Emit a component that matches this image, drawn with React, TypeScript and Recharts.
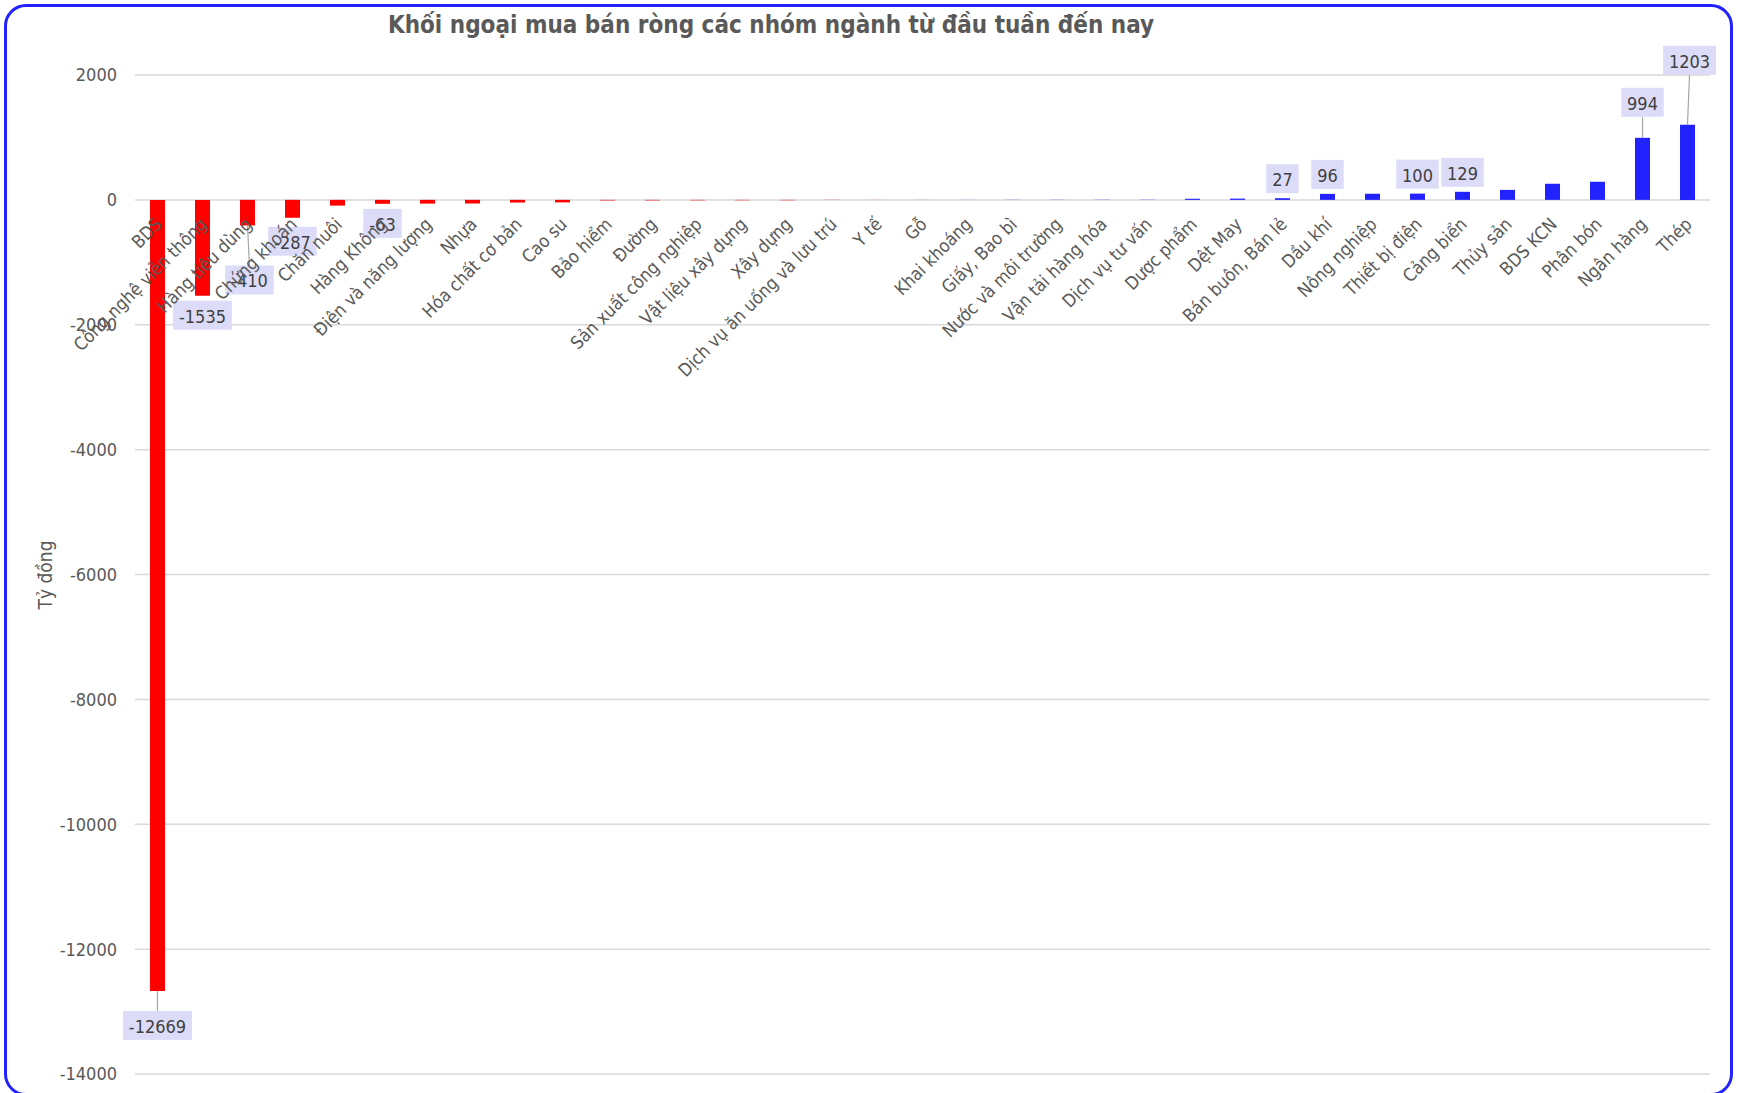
import React from "react";
import { BarChart, Bar, XAxis, YAxis, CartesianGrid, Cell, LabelList } from "recharts";

const FONT = "'DejaVu Sans Condensed', 'DejaVu Sans', sans-serif";

const categories = [
  "BDS",
  "Công nghệ viễn thông",
  "Hàng tiêu dùng",
  "Chứng khoán",
  "Chăn nuôi",
  "Hàng Không",
  "Điện và năng lượng",
  "Nhựa",
  "Hóa chất cơ bản",
  "Cao su",
  "Bảo hiểm",
  "Đường",
  "Sản xuất công nghiệp",
  "Vật liệu xây dựng",
  "Xây dựng",
  "Dịch vụ ăn uống và lưu trú",
  "Y tế",
  "Gỗ",
  "Khai khoáng",
  "Giấy, Bao bì",
  "Nước và môi trường",
  "Vận tải hàng hóa",
  "Dịch vụ tư vấn",
  "Dược phẩm",
  "Dệt May",
  "Bán buôn, Bán lẻ",
  "Dầu khí",
  "Nông nghiệp",
  "Thiết bị điện",
  "Cảng biển",
  "Thủy sản",
  "BDS KCN",
  "Phân bón",
  "Ngân hàng",
  "Thép",
];

// tỷ đồng
const values = [
  -12669, -1535, -410, -287, -92, -63, -60, -58, -43, -40,
  -9, -8, -7, -6, -6, -2, -1, 1, 1, 2,
  2, 3, 3, 18, 20, 27, 96, 98, 100, 129,
  160, 258, 290, 994, 1203,
];

const yTicks = [2000, 0, -2000, -4000, -6000, -8000, -10000, -12000, -14000];

// bars whose value is printed
const labelled = [
  "BDS",
  "Công nghệ viễn thông",
  "Hàng tiêu dùng",
  "Chứng khoán",
  "Hàng Không",
  "Bán buôn, Bán lẻ",
  "Dầu khí",
  "Thiết bị điện",
  "Cảng biển",
  "Ngân hàng",
  "Thép",
];

// label placement tweaks (gap from bar end, sideways nudge, leader line)
const labelGap: Record<string, number> = {
  BDS: 20,
  "Hàng tiêu dùng": 40,
  "Chứng khoán": 9,
  "Ngân hàng": 21,
  "Thép": 50,
};
const labelShift: Record<string, number> = { "Hàng tiêu dùng": 2, "Thép": 2 };
const withLeader = ["BDS", "Hàng tiêu dùng", "Ngân hàng", "Thép"];

const data = categories.map((name, i) => ({ name, value: values[i] }));

function barBox(props: any) {
  const vb = props.viewBox && props.viewBox.width != null ? props.viewBox : props;
  const top = Math.min(vb.y, vb.y + vb.height);
  const bottom = Math.max(vb.y, vb.y + vb.height);
  return { cx: vb.x + vb.width / 2, top, bottom };
}

function ValueLabel(props: any) {
  const i = props.index;
  const name = categories[i];
  const v = values[i];
  if (!labelled.includes(name)) return null;
  const { cx, top, bottom } = barBox(props);
  const text = String(v);
  const digits = text.replace("-", "").length;
  const w = digits * 10.2 + (v < 0 ? 6 : 0) + 12;
  const h = 29;
  const gap = labelGap[name] ?? 5;
  const bx = cx + (labelShift[name] ?? 0);
  const boxTop = v < 0 ? bottom + gap : top - gap - h;
  return (
    <g>
      {withLeader.includes(name) && (
        <line
          x1={cx}
          y1={v < 0 ? bottom : top}
          x2={bx}
          y2={v < 0 ? boxTop : boxTop + h}
          stroke="#a6a6a6"
          strokeWidth={1.2}
        />
      )}
      <rect x={bx - w / 2} y={boxTop} width={w} height={h} fill="#dcdcf8" />
      <text
        x={bx}
        y={boxTop + h / 2 + 1}
        textAnchor="middle"
        dominantBaseline="central"
        fontSize={18}
        fontFamily={FONT}
        fill="#404040"
      >
        {text}
      </text>
    </g>
  );
}

function CategoryLabel(props: any) {
  const i = props.index;
  const v = values[i];
  const { cx, top, bottom } = barBox(props);
  const zero = v >= 0 ? bottom : top;
  return (
    <text
      transform={`translate(${cx + 1},${zero + 21}) rotate(-45)`}
      textAnchor="end"
      dominantBaseline="central"
      fontSize={18}
      fontFamily={FONT}
      fill="#595959"
    >
      {categories[i]}
    </text>
  );
}

export default function App() {
  return (
    <div
      style={{
        position: "absolute",
        left: 0,
        top: 0,
        width: 1740,
        height: 1093,
        overflow: "hidden",
        background: "#fff",
        fontFamily: FONT,
      }}
    >
      <div
        style={{
          position: "absolute",
          left: 4,
          top: 4,
          width: 1729,
          height: 1092,
          boxSizing: "border-box",
          border: "3px solid #2222ff",
          borderRadius: 22,
        }}
      />
      <BarChart
        width={1740}
        height={1093}
        data={data}
        margin={{ top: 75, right: 30, bottom: 19, left: 8 }}
        barSize={15}
        style={{ position: "absolute", left: 0, top: 0 }}
      >
        <CartesianGrid vertical={false} stroke="#d9d9d9" strokeWidth={1.5} />
        <XAxis dataKey="name" hide />
        <YAxis
          type="number"
          domain={[-14000, 2000]}
          ticks={yTicks}
          interval={0}
          width={127}
          axisLine={false}
          tickLine={false}
          tickSize={0}
          tickMargin={18}
          tick={{ fontSize: 18, fill: "#595959", fontFamily: FONT }}
        />
        <Bar dataKey="value" isAnimationActive={false}>
          {data.map((d) => (
            <Cell key={d.name} fill={d.value < 0 ? "#ff0000" : "#2222ff"} />
          ))}
          <LabelList dataKey="value" content={ValueLabel} />
          <LabelList dataKey="name" content={CategoryLabel} />
        </Bar>
      </BarChart>
      <svg
        width={1740}
        height={1093}
        style={{ position: "absolute", left: 0, top: 0, pointerEvents: "none" }}
      >
        <text
          x={771}
          y={33}
          textAnchor="middle"
          fontSize={24}
          fontWeight="bold"
          fontFamily={FONT}
          fill="#595959"
        >
          Khối ngoại mua bán ròng các nhóm ngành từ đầu tuần đến nay
        </text>
        <text
          transform="translate(45,575) rotate(-90)"
          textAnchor="middle"
          dominantBaseline="central"
          fontSize={19}
          fontFamily={FONT}
          fill="#595959"
        >
          Tỷ đồng
        </text>
      </svg>
    </div>
  );
}
